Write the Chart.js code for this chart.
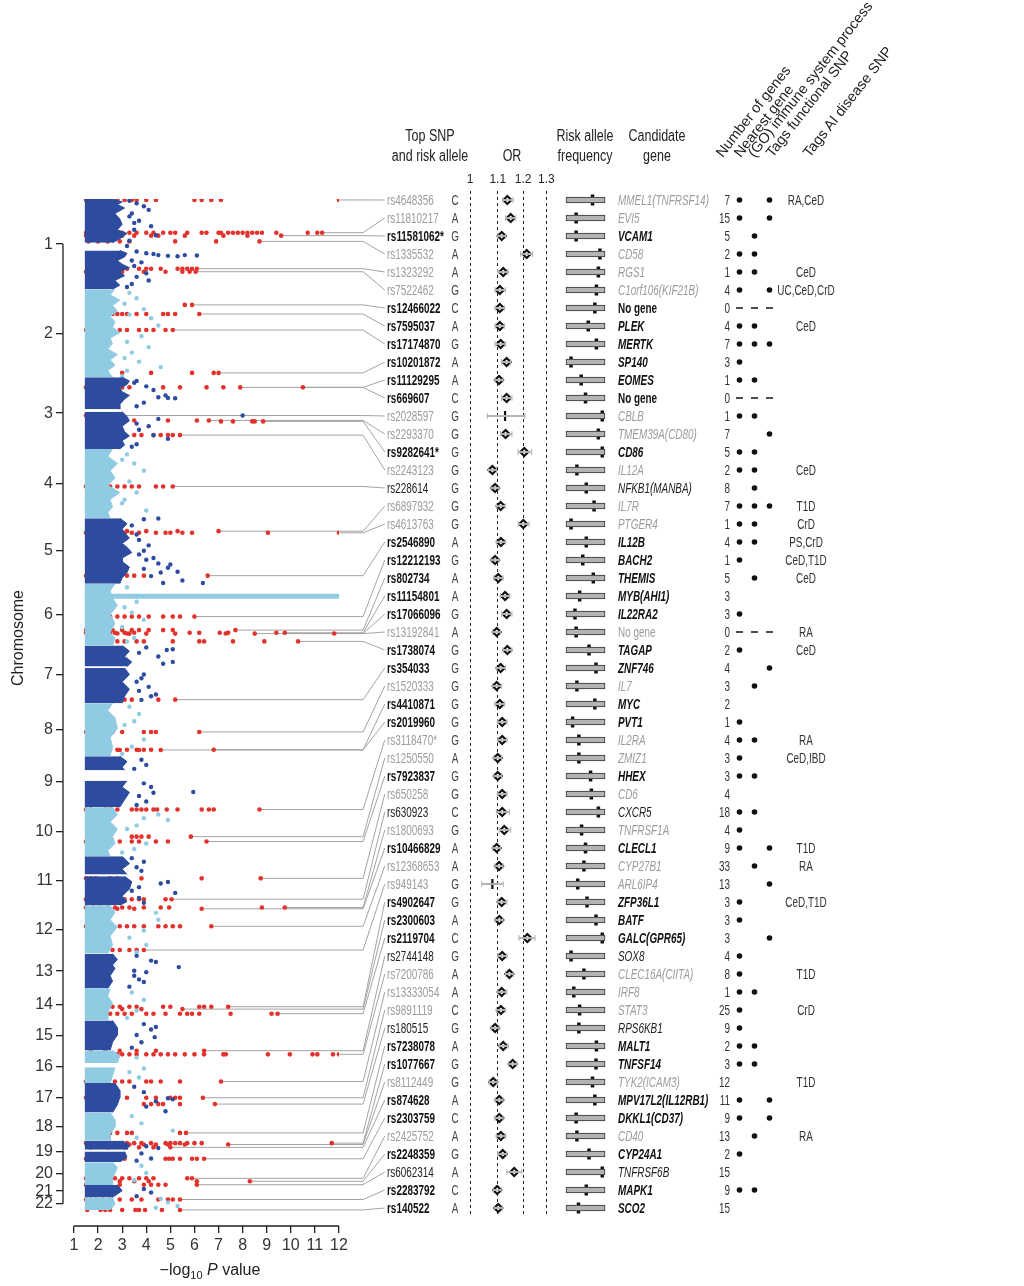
<!DOCTYPE html>
<html>
<head>
<meta charset="utf-8">
<script src="https://cdn.jsdelivr.net/npm/chart.js@4.4.0/dist/chart.umd.min.js"></script>
<style>
  body { margin: 0; background: #fff; }
  #fig { position: relative; width: 1024px; height: 1286px; overflow: hidden;
         font-family: "Liberation Sans", Arial, sans-serif; color: #222; }
  #fig canvas { position: absolute; top: 0; }
  .t { position: absolute; white-space: nowrap; line-height: 18px; font-size: 15.5px;
       transform: scaleX(0.64); transform-origin: 0 50%; }
  .t.c { transform-origin: 50% 50%; text-align: center; }
  .t.r { transform-origin: 100% 50%; text-align: right; }
  .b { font-weight: bold; color: #111; }
  .g { color: #9c9c9c; }
  .k { color: #222; }
  .hd { position: absolute; white-space: nowrap; font-size: 16px; line-height: 20px; text-align: center; color: #222;
        transform: scaleX(0.78); }
  .ax { position: absolute; white-space: nowrap; font-size: 16px; line-height: 20px; text-align: center; color: #222; }
  .rot { position: absolute; white-space: nowrap; font-size: 14.5px;
         line-height: 16px; transform-origin: 0 100%; transform: rotate(-52deg); color: #222; }
</style>
</head>
<body>
<div id="fig">
  <canvas id="manhattan" width="392" height="1286" style="left:0"></canvas>
  <canvas id="orChart" width="105" height="1286" style="left:455px"></canvas>
  <canvas id="freqChart" width="60" height="1286" style="left:556px"></canvas>
  <canvas id="flagChart" width="45" height="1286" style="left:732px"></canvas>
</div>

<script>
// chromosomes: plotted span in Mb
const chrNames = ['1','2','3','4','5','6','7','8','9','10','11','12','13','14','15','16','17','18','19','20','21','22'];
const chrFrom = [0,0,0,0,0,0,0,0,0,0,0,0,19,19,20,0,0,0,0,0,14,16];
const chrTo = [249.3,243.2,198.0,191.2,180.9,171.1,159.1,146.4,141.2,135.5,135.0,133.9,115.2,107.3,102.5,90.4,81.2,78.1,59.1,63.0,48.1,51.3];
const logPTicks = [1,2,3,4,5,6,7,8,9,10,11,12];

// right edge of the dense band of SNPs, [position Mb, -log10 P]; null = gap
const coreEdge = [
  [[0,2.6],[8,3.0],[15,2.8],[25,3.1],[40,2.7],[55,2.9],[70,3.0],[85,2.8],[95,3.2],[110,2.9],[121,2.6],[130,null],[142,2.9],[150,3.2],[160,3.1],[170,2.8],[180,3.0],[190,3.3],[200,2.9],[212,3.1],[225,2.7],[238,2.9],[249,2.6]],
  [[0,2.7],[15,2.5],[30,2.9],[45,2.6],[60,2.8],[75,2.5],[90,2.7],[105,2.6],[120,2.9],[135,2.5],[150,2.6],[165,2.4],[180,2.8],[195,2.5],[210,2.7],[225,2.4],[243,2.6]],
  [[0,3.0],[10,3.3],[20,3.2],[30,2.9],[40,3.0],[50,3.3],[60,3.1],[75,2.9],[88,2.9],[91,null],[95,3.0],[108,3.2],[120,3.3],[135,3.0],[150,3.1],[162,3.3],[175,3.0],[187,3.1],[198,2.9]],
  [[0,2.6],[20,2.4],[40,2.8],[60,2.5],[80,2.7],[100,2.4],[120,2.9],[140,2.5],[160,2.6],[175,2.4],[191,2.5]],
  [[0,2.9],[15,3.2],[30,3.0],[40,3.1],[55,3.3],[70,3.0],[80,3.2],[95,3.4],[110,3.0],[120,3.0],[135,3.3],[150,3.2],[165,3.0],[181,2.9]],
  [[0,2.7],[20,2.5],[40,2.6],[60,2.8],[85,2.5],[110,2.7],[135,2.5],[150,2.7],[171,2.6]],
  [[0,3.0],[15,3.3],[30,3.1],[45,3.4],[58,3.2],[60,null],[62,3.1],[80,3.3],[100,3.0],[120,3.3],[140,3.1],[159,3.0]],
  [[0,2.6],[20,2.4],[40,2.7],[70,2.8],[95,2.5],[120,2.6],[146,2.5]],
  [[0,2.9],[15,3.2],[30,3.0],[39,3.1],[50,null],[68,3.2],[85,3.0],[100,3.3],[120,3.1],[141,2.9]],
  [[0,2.6],[20,2.8],[40,2.5],[60,2.8],[80,2.6],[100,2.7],[120,2.4],[135,2.5]],
  [[0,3.0],[20,3.3],[35,3.0],[50,3.2],[53,null],[55,3.1],[70,3.4],[90,3.3],[110,3.0],[125,3.2],[135,2.9]],
  [[0,2.5],[20,2.7],[40,2.5],[60,2.8],[85,2.5],[110,2.6],[133,2.4]],
  [[19,2.6],[35,2.8],[50,2.6],[60,2.7],[80,2.5],[95,2.6],[115,2.4]],
  [[19,2.5],[40,2.4],[60,2.6],[85,2.4],[107,2.4]],
  [[20,2.6],[40,2.8],[60,2.8],[80,2.6],[102,2.5]],
  [[0,2.6],[15,2.9],[35,2.8],[41,null],[47,2.7],[70,2.6],[90,2.5]],
  [[0,2.7],[20,2.9],[40,2.9],[60,2.8],[81,2.6]],
  [[0,2.5],[20,2.7],[40,2.7],[60,2.5],[78,2.5]],
  [[0,3.0],[12,3.3],[25,3.2],[27,null],[30,3.1],[45,3.2],[59,2.9]],
  [[0,2.6],[15,2.8],[30,2.7],[45,2.6],[63,2.6]],
  [[14,2.8],[30,3.0],[48,2.6]],
  [[16,2.6],[35,2.7],[51,2.5]]
];
const coreStartLogP = 1.45;
const mhcChr = 6, mhcPos = 35, mhcLogP = [1.45, 12.0];

// scattered SNPs beyond the dense band: [chr, Mb, -log10 P]
const bgOutliers = [
  [1,5,3.3],[1,12,3.6],[1,20,3.9],[1,30,4.1],[1,40,3.4],[1,60,3.7],[1,75,4.2],[1,85,3.5],[1,100,4.4],[1,115,3.3],
  [1,145,3.6],[1,150,4.0],[1,152,4.3],[1,155,4.5],[1,157,4.9],[1,155,5.6],[1,156,6.1],[1,158,5.3],[1,175,3.8],[1,185,3.5],
  [1,205,4.0],[1,215,3.6],[1,225,4.1],[1,235,3.4],[1,48,3.3],[1,66,3.5],[1,130,3.2],[1,170,3.4],[1,243,3.2],
  [2,10,3.3],[2,25,3.6],[2,55,3.9],[2,80,4.2],[2,100,4.5],[2,130,3.8],[2,160,4.1],[2,175,3.4],[2,200,3.7],[2,215,4.6],[2,225,3.2],[2,240,3.0],
  [2,40,3.1],[2,70,3.3],[2,145,3.2],[2,190,3.1],
  [3,10,3.6],[3,25,4.0],[3,35,4.3],[3,50,4.8],[3,55,4.5],[3,57,4.9],[3,58,5.2],[3,70,3.9],[3,105.6,8.0],[3,115,4.5],
  [3,135,4.1],[3,145,3.7],[3,160,4.3],[3,170,4.9],[3,185,3.6],[3,15,3.5],[3,80,3.6],[3,128,3.6],[3,192,3.4],
  [4,15,3.2],[4,40,3.5],[4,60,3.9],[4,90,3.3],[4,120,3.6],[4,150,3.0],[4,170,4.0],[4,30,3.0],[4,140,3.1],
  [5,1,4.5],[5,3,3.9],[5,20,3.4],[5,60,3.7],[5,75,4.1],[5,90,3.9],[5,110,4.3],[5,115,4.0],[5,125,4.5],[5,128,5.0],
  [5,137,4.9],[5,140,3.9],[5,148,5.3],[5,150,4.6],[5,160,4.2],[5,172,5.5],[5,179,6.35],[5,179,4.7],[5,45,3.6],[5,100,3.7],
  [6,10,3.2],[6,50,3.6],[6,80,3.4],[6,100,3.9],[6,120,3.0],[6,150,3.5],[6,65,3.1],[6,160,3.2],
  [7,5,4.0],[7,12,4.85],[7,10,5.1],[7,30,4.5],[7,45,5.1],[7,50,4.7],[7,80,3.9],[7,100,3.6],[7,114,4.1],[7,135,4.4],[7,140,4.2],[7,150,3.8],
  [7,20,3.7],[7,90,3.8],[7,125,3.7],
  [8,10,3.3],[8,30,3.7],[8,50,3.5],[8,100,3.9],[8,120,3.4],[8,140,3.0],[8,60,3.1],
  [9,10,3.8],[9,24,4.0],[9,35,3.5],[9,75,3.9],[9,85,4.2],[9,99,5.95],[9,101,4.3],[9,110,3.7],[9,125,4.0],[9,135,3.6],
  [10,20,4.5],[10,30,3.9],[10,35,4.9],[10,50,3.6],[10,60,3.2],[10,100,4.0],[10,115,3.5],[10,125,3.0],
  [11,5,3.4],[11,15,3.9],[11,40,3.8],[11,71,4.9],[11,75,4.6],[11,95,3.4],[11,101,5.2],[11,115,3.7],[11,128,3.9],[11,30,3.6],[11,85,3.7],
  [12,21,4.4],[12,40,4.5],[12,70,3.9],[12,90,3.3],[12,110,4.0],[12,130,3.6],
  [13,25,3.6],[13,38,4.2],[13,42,4.4],[13,56,5.35],[13,66,3.5],[13,70,4.0],[13,90,3.7],[13,97,3.9],[13,110,3.3],[13,80,3.5],
  [14,30,3.4],[14,50,3.9],[14,80,3.6],[14,100,3.2],
  [15,30,3.9],[15,38,4.4],[15,45,4.2],[15,60,3.6],[15,66,4.35],[15,80,3.8],[15,95,3.4],
  [16,20,3.6],[16,50,3.9],[16,60,3.3],[16,75,3.7],
  [17,10,3.5],[17,25,3.9],[17,42,4.9],[17,45,5.1],[17,50,4.4],[17,65,4.0],[17,78,4.8],
  [18,10,3.4],[18,30,3.8],[18,50,5.1],[18,70,3.6],
  [19,15,4.0],[19,20,4.5],[19,35,3.8],[19,49,4.2],[19,55,3.6],
  [20,10,3.8],[20,30,4.0],[20,50,3.5],
  [21,25,3.9],[21,35,4.2],[21,45,3.6],
  [22,20,4.6],[22,30,4.9],[22,40,5.3],[22,45,4.4]
];

// top SNPs (table rows)
const snpIds = ['rs4648356','rs11810217','rs11581062*','rs1335532','rs1323292','rs7522462','rs12466022','rs7595037','rs17174870','rs10201872',
  'rs11129295','rs669607','rs2028597','rs2293370','rs9282641*','rs2243123','rs228614','rs6897932','rs4613763','rs2546890',
  'rs12212193','rs802734','rs11154801','rs17066096','rs13192841','rs1738074','rs354033','rs1520333','rs4410871','rs2019960',
  'rs3118470*','rs1250550','rs7923837','rs650258','rs630923','rs1800693','rs10466829','rs12368653','rs949143','rs4902647',
  'rs2300603','rs2119704','rs2744148','rs7200786','rs13333054','rs9891119','rs180515','rs7238078','rs1077667','rs8112449',
  'rs874628','rs2303759','rs2425752','rs2248359','rs6062314','rs2283792','rs140522'];
const riskAllele = ['C','A','G','A','A','G','C','A','G','A','A','C','G','G','G','G','G','G','G','A','G','A','A','G','A','G','G','G','G','G',
  'G','A','G','G','C','G','A','A','G','G','A','C','G','A','A','C','G','A','G','G','A','C','A','G','A','C','A'];
const snpStyle = ['g','g','b','g','g','g','b','b','b','b','b','b','g','g','b','g','k','g','g','b','b','b','b','b','g','b','b','g','b','b',
  'g','g','b','g','k','g','b','g','g','b','b','b','k','g','g','g','k','b','b','g','b','b','g','b','k','b','b'];
const snpChr = [1,1,1,1,1,1,2,2,2,2,3,3,3,3,3,3,4,5,5,5,6,6,6,6,6,6,7,8,8,8,10,10,10,11,11,12,12,12,12,14,14,14,16,16,16,17,17,18,19,19,19,19,20,20,20,22,22];
const snpPos = [2.7,93.1,101.2,117.1,192.5,200.9,43.2,68.5,112.7,231.1,27.8,27.9,105.6,119.2,121.8,159.7,103.6,35.9,40.4,158.8,
  91.0,128.3,135.7,137.5,138.0,159.5,149.3,79.4,128.8,129.2,6.1,81.0,94.5,60.8,118.3,6.4,9.9,58.2,123.7,69.3,
  75.9,88.5,1.0,11.1,86.0,40.5,58.0,56.4,6.6,10.4,18.3,49.9,44.7,52.8,62.3,22.1,50.9];
// associated SNPs around each locus (red), -log10 P
const hitLogP = [
  [1.5,1.7,2.0,2.2,2.5,2.8,3.1,3.4,3.6,4.0,4.4,6.0,6.3,6.7,7.1,12.0],
  [1.5,1.8,2.1,2.4,2.7,3.0,3.3,3.6,4.0,4.3,4.7,5.0,5.2,5.7,6.3,6.5,7.0,7.1,7.4,7.6,7.8,8.0,8.2,8.4,8.6,8.8,9.4,10.7,11.1,11.3],
  [1.5,1.9,2.3,2.7,3.0,3.5,4.2,4.5,5.6,7.2,8.2,9.6],
  [1.6,2.0,2.4,2.9,3.3,5.2,6.9,8.7],
  [1.6,2.2,2.8,3.2,3.7,4.0,4.2,4.6,5.3,5.5,5.7,5.9,6.1],
  [1.5,1.9,2.4,3.0,3.9,4.8,5.5,5.8,6.05],
  [1.9,5.6,5.9],
  [1.7,2.0,2.2,2.4,2.6,2.8,3.0,3.2,3.6,4.0,4.7,4.9,5.2,6.2],
  [1.5,1.9,2.3,2.6,2.9,3.2,3.7,4.0,4.3,4.8,5.1],
  [1.6,1.9,2.1,3.0,4.2,5.9,6.8,7.0],
  [1.5,1.7,1.9,2.1,2.3,2.5,2.7,2.9,3.3,4.7,5.4,6.5,7.2,10.5],
  [2.0,3.0,7.9],
  [1.5,1.8,2.1,2.4,2.7,3.0],
  [1.6,2.0,2.5,3.0,3.5,4.9,6.1,6.6],
  [1.8,2.4,7.1,7.6,8.4,8.5,8.85],
  [1.6,1.9,2.2,2.8,3.5,3.8,4.3,4.6,4.9,5.1,5.4],
  [1.5,1.9,2.5,2.8,3.1,3.4,3.7,4.4,4.7,5.1],
  [1.6,2.0,2.4,2.8,3.2,4.0,5.3,7.0],
  [1.5,1.7,1.9,2.1,2.3,2.5,2.7,2.9,3.1,3.4,3.7,4.4,4.8,5.0,5.5,5.9,9.05,12.0],
  [1.5,1.7,1.9,2.1,2.3,2.5,2.7,2.9,3.2,3.5,3.9,6.55],
  [1.6,1.9,2.2,2.5,2.8,3.1,3.4,3.7,4.1,4.7,5.1,5.4,6.0],
  [1.5,1.8,2.2,2.6,3.0,3.4,3.7,4.1,4.7,5.1,7.7],
  [1.5,1.9,2.3,2.7,3.1,3.5,5.8,6.2,7.05,7.4,9.4,9.75],
  [1.6,2.0,2.4,2.8,3.2,7.3,11.8],
  [1.7,2.5,3.3,4.0,5.2,8.5],
  [1.6,1.9,2.2,2.5,2.8,3.1,3.6,3.9,5.1,6.2,6.4,7.6,8.9,10.3],
  [1.7,2.0,2.2,2.5,2.8,3.1,3.4,4.5,5.2],
  [1.5,1.8,2.3,2.6,3.0,3.9,4.2,4.4,6.2],
  [1.6,1.9,2.2,2.5,2.8,3.2,3.6,3.9,4.2,6.8],
  [2.0,2.9,3.7,4.6],
  [1.5,1.7,2.3,2.5,2.8,3.4,3.6,3.8,4.0,4.3,4.45,4.85,5.3,6.3,6.6,6.8,8.7],
  [1.6,2.4,3.4,3.6,3.8,4.1,5.85],
  [1.5,2.0,2.2,2.5,2.9,3.4,3.7,4.4,4.9,6.5],
  [1.5,1.7,1.9,2.5,2.8,3.8,6.3,8.75],
  [1.5,1.7,1.9,2.1,2.3,2.5,3.1,3.4,3.7,3.9,4.8,5.05],
  [1.5,1.8,2.1,2.4,2.7,3.0,3.3,3.9,4.6,4.95,8.8,9.75],
  [1.6,2.2,2.8,3.5,6.3],
  [1.5,1.8,2.1,2.6,2.9,3.2,3.5,3.9,4.5,4.8,5.1,5.4,6.7],
  [2.0,2.3,2.6,2.9,3.3,3.6,3.9],
  [1.6,1.9,2.2,2.6,2.9,3.3,3.6,4.7,5.0,6.2,6.4,6.7,7.4],
  [1.7,2.3,3.0,3.8,5.5],
  [1.6,1.9,2.2,2.5,2.8,3.1,3.4,4.0,4.3,4.8,5.4,5.7,5.9,6.2,7.5,9.2,9.45],
  [1.7,2.3,2.9,3.6,4.4,6.4],
  [1.6,1.8,2.0,2.2,2.4,2.6,2.8,3.0,3.3,3.6,4.0,4.3,4.6,4.9,5.2,5.6,6.0,6.4,7.2,7.3,9.05,9.96,10.9,11.1,11.75,12.0],
  [1.5,1.8,2.1,2.4,2.7,3.0,3.3,4.0,4.2,4.6,5.4,7.1],
  [1.5,1.8,2.1,2.4,2.7,3.2,4.0,4.4,5.0,5.2,5.4,6.35],
  [1.7,2.5,3.9,4.2,4.5,4.7,5.4,6.85],
  [1.55,2.5,2.8,3.2,3.4,5.4,5.65],
  [1.5,1.7,1.9,2.1,2.3,2.5,2.7,2.9,3.2,3.5,3.8,4.2,4.8,5.0,5.2,5.4,5.7,6.0,6.3,11.7],
  [1.6,2.0,2.6,3.3,3.9,4.4,4.9,5.6,7.4],
  [1.7,2.4,3.1,3.7,4.3,5.0],
  [1.5,1.8,2.1,2.4,2.8,3.1,4.8,4.95,5.1,5.4,5.9,6.1,6.4],
  [1.5,1.7,1.9,2.2,2.4,2.7,3.0,3.3,3.7,4.0,4.3,5.7,5.9],
  [1.6,2.2,2.9,3.5,4.1,6.1,8.3],
  [1.5,1.8,2.1,2.5,2.9,3.9,4.2,4.5,4.8,6.1],
  [1.5,1.7,1.9,2.2,2.5,2.9,3.4,3.8,4.5,4.9,5.1,5.4],
  [1.55,2.1,2.3,2.5,3.0,3.55,3.7,3.95,4.65,5.4]
];

const orTicks = [1, 1.1, 1.2, 1.3];
const orValue = [1.137,1.150,1.115,1.215,1.121,1.108,1.108,1.108,1.111,1.134,1.105,1.134,1.128,1.130,1.205,1.080,1.090,1.111,1.201,1.112,
  1.090,1.102,1.128,1.134,1.096,1.137,1.111,1.096,1.108,1.117,1.117,1.100,1.100,1.117,1.117,1.125,1.096,1.105,1.080,1.115,
  1.106,1.218,1.117,1.145,1.115,1.112,1.090,1.121,1.158,1.083,1.106,1.106,1.112,1.119,1.164,1.098,1.102];
const orLow = [1.12,1.13,1.10,1.19,1.10,1.09,1.09,1.09,1.09,1.115,1.09,1.115,1.061,1.11,1.18,1.065,1.075,1.095,1.18,1.095,
  1.075,1.085,1.11,1.115,1.08,1.12,1.095,1.08,1.09,1.10,1.10,1.085,1.085,1.10,1.095,1.105,1.08,1.09,1.041,1.10,
  1.09,1.183,1.10,1.13,1.10,1.095,1.075,1.105,1.14,1.068,1.09,1.09,1.095,1.10,1.135,1.083,1.087];
const orHigh = [1.16,1.17,1.13,1.24,1.14,1.13,1.125,1.125,1.13,1.15,1.12,1.155,1.208,1.155,1.236,1.095,1.105,1.13,1.225,1.13,
  1.105,1.12,1.145,1.155,1.11,1.155,1.13,1.115,1.125,1.135,1.135,1.115,1.115,1.135,1.145,1.15,1.11,1.12,1.121,1.135,
  1.12,1.25,1.135,1.16,1.135,1.13,1.105,1.14,1.175,1.098,1.12,1.12,1.13,1.135,1.195,1.113,1.117];
const orShape = snpIds.map((s, i) => (i === 12 || i === 38) ? 'x' : 'd');

const freqRange = [0, 1];
const riskFreq = [0.68,0.26,0.26,0.87,0.83,0.78,0.74,0.57,0.78,0.13,0.39,0.50,0.93,0.83,0.93,0.28,0.52,0.72,0.13,0.52,
  0.43,0.70,0.35,0.23,0.26,0.59,0.77,0.28,0.74,0.17,0.33,0.33,0.63,0.65,0.83,0.40,0.50,0.46,0.30,0.54,
  0.77,0.93,0.13,0.46,0.20,0.35,0.33,0.78,0.77,0.68,0.74,0.26,0.28,0.59,0.93,0.52,0.32];

const candidateGene = ['MMEL1(TNFRSF14)','EVI5','VCAM1','CD58','RGS1','C1orf106(KIF21B)','No gene','PLEK','MERTK','SP140',
  'EOMES','No gene','CBLB','TMEM39A(CD80)','CD86','IL12A','NFKB1(MANBA)','IL7R','PTGER4','IL12B',
  'BACH2','THEMIS','MYB(AHI1)','IL22RA2','No gene','TAGAP','ZNF746','IL7','MYC','PVT1',
  'IL2RA','ZMIZ1','HHEX','CD6','CXCR5','TNFRSF1A','CLECL1','CYP27B1','ARL6IP4','ZFP36L1',
  'BATF','GALC(GPR65)','SOX8','CLEC16A(CIITA)','IRF8','STAT3','RPS6KB1','MALT1','TNFSF14','TYK2(ICAM3)',
  'MPV17L2(IL12RB1)','DKKL1(CD37)','CD40','CYP24A1','TNFRSF6B','MAPK1','SCO2'];
const nGenes = [7,15,5,2,1,4,0,4,7,3,1,0,1,7,5,2,8,7,1,4,1,5,3,3,0,2,4,3,2,1,4,3,3,4,18,4,9,33,13,3,3,3,4,8,1,25,9,2,3,12,11,9,13,2,15,9,15];
// 1 = yes (dot), -1 = not applicable (dash), 0 = no
const nearestGene = [1,1,0,1,1,1,-1,1,1,1,1,-1,1,0,1,1,0,1,1,1,1,0,0,1,-1,1,0,0,0,1,1,1,1,0,1,1,1,0,0,1,1,0,1,1,1,1,1,1,1,0,1,1,0,1,0,1,0];
const immuneGO = [0,0,1,1,1,0,-1,1,1,0,1,-1,1,0,1,1,1,1,1,1,0,1,0,0,-1,0,0,1,0,0,1,0,1,0,1,0,0,1,0,0,0,0,0,0,1,0,0,1,1,0,0,0,1,0,0,1,0];
const tagsFunctional = [1,1,0,0,0,1,-1,0,1,0,0,-1,0,1,0,0,0,1,0,0,0,0,0,0,-1,0,1,0,0,0,0,0,0,0,0,0,1,0,1,0,0,1,0,0,0,0,0,0,0,0,1,1,0,0,0,0,0];
const tagsAI = ['RA,CeD','','','','CeD','UC,CeD,CrD','','CeD','','','','','','','','CeD','','T1D','CrD','PS,CrD',
  'CeD,T1D','CeD','','','RA','CeD','','','','','RA','CeD,IBD','','','','','T1D','RA','','CeD,T1D',
  '','','','T1D','','CrD','','','','T1D','','','RA','','','',''];

// ---- colours / layout
const DARK = '#2d4c9f', LIGHT = '#8fcbe2', RED = '#e2322b', LINE = '#a3a3a3';
const ROW_TOP = 191, ROW_H = 18;
const ELBOW = 13.0, LABEL_END = 13.9;   // -log10 P units, right of the plot

// cumulative genome axis
const chrCum = [];
chrTo.reduce((acc, to, c) => { chrCum.push(acc); return acc + to - chrFrom[c]; }, 0);
const gY = (chr, pos) => chrCum[chr - 1] + pos - chrFrom[chr - 1];
const chrMid = chrNames.map((n, c) => chrCum[c] + (chrTo[c] - chrFrom[c]) / 2);

function corePoints(odd) {
  const pts = [];
  coreEdge.forEach((edge, c) => {
    if ((c % 2 === 0) !== odd) return;
    edge.forEach(([pos, v]) => pts.push({ x: v, y: gY(c + 1, pos) }));
    pts.push({ x: null, y: gY(c + 1, chrTo[c]) + 0.5 });
  });
  return pts;
}
const outlierPts = odd => bgOutliers.filter(o => (o[0] % 2 === 1) === odd).map(o => ({ x: o[2], y: gY(o[0], o[1]) }));
const redPts = [];
hitLogP.forEach((list, i) => list.forEach(v => redPts.push({ x: v, y: gY(snpChr[i], snpPos[i]) })));

const tickFont = { family: 'Liberation Sans, Arial, sans-serif', size: 16 };

const manhattanDecor = {
  id: 'manhattanDecor',
  beforeDatasetsDraw(chart) {
    const { ctx, scales: { x, y, yRow } } = chart;
    ctx.save();
    ctx.strokeStyle = LINE;
    ctx.lineWidth = 1;
    snpIds.forEach((id, i) => {
      const gy = y.getPixelForValue(gY(snpChr[i], snpPos[i]));
      ctx.beginPath();
      ctx.moveTo(x.getPixelForValue(Math.max(...hitLogP[i])), gy);
      ctx.lineTo(x.getPixelForValue(ELBOW), gy);
      ctx.lineTo(x.getPixelForValue(LABEL_END), yRow.getPixelForValue(i));
      ctx.stroke();
    });
    ctx.restore();
  },
  afterDraw(chart) {
    const { ctx, chartArea, scales: { x, y } } = chart;
    ctx.save();
    ctx.strokeStyle = '#222';
    ctx.lineWidth = 1.3;
    ctx.beginPath();
    ctx.moveTo(chartArea.left, y.getPixelForValue(chrMid[0]));
    ctx.lineTo(chartArea.left, y.getPixelForValue(chrMid[chrMid.length - 1]));
    ctx.moveTo(x.getPixelForValue(logPTicks[0]), chartArea.bottom);
    ctx.lineTo(x.getPixelForValue(logPTicks[logPTicks.length - 1]), chartArea.bottom);
    ctx.stroke();
    ctx.restore();
  }
};

new Chart(document.getElementById('manhattan'), {
  type: 'scatter',
  data: {
    datasets: [
      { type: 'line', indexAxis: 'y', data: corePoints(true), borderColor: DARK, backgroundColor: DARK, borderWidth: 1,
        pointRadius: 0, fill: { value: coreStartLogP } },
      { type: 'line', indexAxis: 'y', data: corePoints(false), borderColor: LIGHT, backgroundColor: LIGHT, borderWidth: 1,
        pointRadius: 0, fill: { value: coreStartLogP } },
      { type: 'line', data: mhcLogP.map(v => ({ x: v, y: gY(mhcChr, mhcPos) })), borderColor: LIGHT, borderWidth: 5, pointRadius: 0 },
      { data: outlierPts(true), backgroundColor: DARK, pointRadius: 2.2, borderWidth: 0 },
      { data: outlierPts(false), backgroundColor: LIGHT, pointRadius: 2.2, borderWidth: 0 },
      { data: redPts, backgroundColor: RED, pointRadius: 2.3, borderWidth: 0 }
    ]
  },
  options: {
    responsive: false, animation: false,
    layout: { autoPadding: false, padding: { top: 199, right: 53, bottom: 0, left: 0 } },
    plugins: { legend: { display: false }, tooltip: { enabled: false } },
    scales: {
      x: {
        type: 'linear', bounds: 'data', min: 0.544, max: 12,
        afterBuildTicks: s => { s.ticks = logPTicks.map(v => ({ value: v })); },
        afterFit: s => { s.height = 60; },
        border: { display: false },
        grid: { drawOnChartArea: false, drawTicks: true, tickLength: 7, color: '#222', lineWidth: 1.3 },
        ticks: { font: tickFont, color: '#333', padding: 3, maxRotation: 0, autoSkip: false }
      },
      y: {
        type: 'linear', bounds: 'data', reverse: true, min: 0, max: 2837,
        afterBuildTicks: s => { s.ticks = chrMid.map(v => ({ value: v })); },
        afterFit: s => { s.width = 63; },
        border: { display: false },
        grid: { drawOnChartArea: false, drawTicks: true, tickLength: 7, color: '#222', lineWidth: 1.3 },
        ticks: { font: tickFont, color: '#333', padding: 3, autoSkip: false, callback: (v, i) => chrNames[i] }
      },
      yRow: { axis: 'y', type: 'linear', bounds: 'data', display: false, reverse: true, min: -1 / 18, max: 57 }
    }
  },
  plugins: [manhattanDecor]
});

// ---- odds ratios
const rowScale = () => ({ type: 'linear', bounds: 'data', display: false, offset: false, grid: { offset: false },
                          reverse: true, min: -0.5, max: 56.5 });
new Chart(document.getElementById('orChart'), {
  type: 'bar',
  data: {
    datasets: [
      { data: snpIds.map((s, i) => ({ x: [orLow[i], orHigh[i]], y: i })), backgroundColor: '#b5b5b5', barThickness: 1.2 },
      { type: 'line', showLine: false, data: snpIds.flatMap((s, i) => [{ x: orLow[i], y: i }, { x: orHigh[i], y: i }]),
        pointStyle: 'line', rotation: 90, pointRadius: 3, borderColor: '#b5b5b5', borderWidth: 1 },
      { type: 'line', showLine: false, data: snpIds.map((s, i) => ({ x: orValue[i], y: i })),
        pointStyle: orShape.map(s => s === 'x' ? 'cross' : 'rectRot'),
        pointRadius: orShape.map(s => s === 'x' ? 5 : 4),
        backgroundColor: '#fff', borderColor: '#111', borderWidth: 2.2 }
    ]
  },
  options: {
    indexAxis: 'y', responsive: false, animation: false,
    layout: { autoPadding: false, padding: { top: 173, bottom: 69, left: 0, right: 0 } },
    plugins: { legend: { display: false }, tooltip: { enabled: false } },
    scales: {
      x: {
        type: 'logarithmic', position: 'top', bounds: 'data', min: 0.9497, max: 1.3625,
        afterBuildTicks: s => { s.ticks = orTicks.map(v => ({ value: v })); },
        afterFit: s => { s.height = 18; },
        border: { display: false, dash: [3, 3] },
        grid: { drawTicks: false, color: '#222', lineWidth: 1 },
        ticks: { callback: v => String(v), font: { family: 'Liberation Sans, sans-serif', size: 12 },
                 color: '#222', padding: 4, maxRotation: 0, autoSkip: false }
      },
      y: rowScale()
    }
  }
});

// ---- risk allele frequency
new Chart(document.getElementById('freqChart'), {
  type: 'bar',
  data: {
    datasets: [
      { data: snpIds.map((s, i) => ({ x: freqRange, y: i })), backgroundColor: '#b3b3b3', borderColor: '#333',
        borderWidth: 1, borderSkipped: false, barThickness: 6 },
      { type: 'line', showLine: false, data: riskFreq.map((f, i) => ({ x: f, y: i })),
        pointStyle: 'line', rotation: 90, pointRadius: 5.5, borderColor: '#111', borderWidth: 3.5 }
    ]
  },
  options: {
    indexAxis: 'y', responsive: false, animation: false,
    layout: { autoPadding: false, padding: { top: 191, bottom: 69, left: 0, right: 0 } },
    plugins: { legend: { display: false }, tooltip: { enabled: false } },
    scales: { x: { type: 'linear', bounds: 'data', display: false, min: -0.256, max: 1.282 }, y: rowScale() }
  }
});

// ---- annotation flags (nearest gene, GO immune, functional)
const flagCols = [nearestGene, immuneGO, tagsFunctional];
const flagPts = v => flagCols.flatMap((col, c) => col.map((f, i) => f === v ? { x: c, y: i } : null).filter(Boolean));
new Chart(document.getElementById('flagChart'), {
  type: 'scatter',
  data: {
    datasets: [
      { data: flagPts(1), backgroundColor: '#111', pointRadius: 2.8, borderWidth: 0 },
      { data: flagPts(-1), pointStyle: 'line', pointRadius: 3.5, borderColor: '#111', borderWidth: 1.5 }
    ]
  },
  options: {
    responsive: false, animation: false,
    layout: { autoPadding: false, padding: { top: 191, bottom: 69, left: 0, right: 0 } },
    plugins: { legend: { display: false }, tooltip: { enabled: false } },
    scales: { x: { type: 'linear', bounds: 'data', display: false, min: -0.5, max: 2.5 }, y: rowScale() }
  }
});

// ---- text
const fig = document.getElementById('fig');
function put(html, cls, css) {
  const d = document.createElement('div');
  d.className = cls;
  d.innerHTML = html;
  Object.assign(d.style, css);
  fig.appendChild(d);
  return d;
}
snpIds.forEach((id, i) => {
  const top = (ROW_TOP + i * ROW_H) + 'px';
  const st = snpStyle[i];
  put(id, 't ' + st, { left: '387px', top });
  put(riskAllele[i], 't c', { left: '446px', top, width: '18px', color: '#444' });
  const g = candidateGene[i];
  put(g, 't ' + st, { left: '618px', top, fontStyle: g === 'No gene' ? 'normal' : 'italic' });
  put(String(nGenes[i]), 't r', { left: '690px', top, width: '40px', color: '#333' });
  if (tagsAI[i]) put(tagsAI[i], 't c', { left: '756px', top, width: '100px', color: '#333' });
});
put('Top SNP<br>and risk allele', 'hd', { left: '370px', top: '126px', width: '120px' });
put('OR', 'hd', { left: '492px', top: '146px', width: '40px' });
put('Risk allele<br>frequency', 'hd', { left: '545px', top: '126px', width: '80px' });
put('Candidate<br>gene', 'hd', { left: '617px', top: '126px', width: '80px' });
[['Number of genes', 725], ['Nearest gene', 743], ['(GO) immune system process', 757],
 ['Tags functional SNP', 775], ['Tags AI disease SNP', 812]].forEach(([txt, x]) =>
  put(txt, 'rot', { left: x + 'px', top: '144px' }));
put('Chromosome', 'ax', { left: '-32px', top: '628px', width: '100px', transform: 'rotate(-90deg)' });
put('&minus;log<sub style="font-size:11px">10</sub> <i>P</i> value', 'ax', { left: '130px', top: '1260px', width: '160px' });
</script>
</body>
</html>
